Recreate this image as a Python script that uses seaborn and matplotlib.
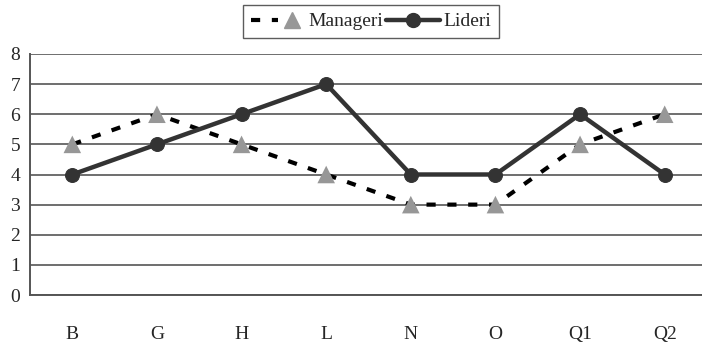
import matplotlib
matplotlib.use("Agg")
import matplotlib.pyplot as plt
import seaborn as sns
import pandas as pd
from matplotlib.lines import Line2D
from matplotlib.legend_handler import HandlerTuple

categories = ["B", "G", "H", "L", "N", "O", "Q1", "Q2"]
manageri = [5, 6, 5, 4, 3, 3, 5, 6]
lideri = [4, 5, 6, 7, 4, 4, 6, 4]
y_ticks = [0, 1, 2, 3, 4, 5, 6, 7, 8]

sns.set_style("white")
plt.rcParams["font.family"] = ["Liberation Serif", "DejaVu Serif"]
SERIF = "Liberation Serif"

df = pd.DataFrame({"cat": categories, "Manageri": manageri, "Lideri": lideri})
df["x"] = range(len(categories))

fig = plt.figure(figsize=(7.02, 3.44), dpi=100)
ax = fig.add_axes([30 / 702, 49 / 344, 677 / 702, 241 / 344])

dash = (0, (2.2, 2.8))
sns.lineplot(data=df, x="x", y="Manageri", ax=ax, color="black", lw=3,
             linestyle=dash, legend=False, zorder=3)
sns.scatterplot(data=df, x="x", y="Manageri", ax=ax, color="#979797",
                marker="^", s=160, edgecolor="none", zorder=4, legend=False)
sns.lineplot(data=df, x="x", y="Lideri", ax=ax, color="#333333", lw=3.2,
             marker="o", markersize=10, markeredgecolor="#333333",
             legend=False, zorder=5)

ax.set_xlim(-0.5, 7.5)
ax.set_ylim(0, 8)
ax.set_yticks(y_ticks)
ax.set_yticklabels([str(v) for v in y_ticks], fontsize=14, family=SERIF)
ax.set_xticks(range(len(categories)))
ax.set_xticklabels(categories, fontsize=14, family=SERIF)
ax.tick_params(axis="x", length=0, pad=22)
ax.tick_params(axis="y", length=5, width=1.2, color="#555555", pad=2, direction="out")
ax.set_xticks([i + 0.5 for i in range(len(categories) - 1)], minor=True)
ax.tick_params(axis="x", which="minor", length=5, width=1.2, color="#555555", direction="out")
ax.set_xlabel("")
ax.set_ylabel("")
ax.grid(axis="y", color="#555555", lw=1.2)
ax.set_axisbelow(True)
for s in ["top", "right"]:
    ax.spines[s].set_visible(False)
for s in ["left", "bottom"]:
    ax.spines[s].set_color("#555555")
    ax.spines[s].set_linewidth(1.4)

h_man = (Line2D([], [], color="black", lw=3, linestyle=dash),
         Line2D([], [], color="#979797", marker="^", markersize=11, lw=0))
h_lid = Line2D([], [], color="#333333", lw=3.2, marker="o", markersize=10)
leg = fig.legend([h_man, h_lid], ["Manageri", "Lideri"],
                 handler_map={tuple: HandlerTuple(ndivide=None, pad=0)},
                 loc="upper center", bbox_to_anchor=(371 / 702, 1 - 3 / 344),
                 ncol=2, frameon=True, fancybox=False,
                 prop={"family": SERIF, "size": 14},
                 handlelength=2.8, columnspacing=0.15, handletextpad=0.15,
                 borderpad=0.4, borderaxespad=0.1, edgecolor="#333333")
leg.get_frame().set_linewidth(1.0)

fig.savefig("out.png", dpi=100)
